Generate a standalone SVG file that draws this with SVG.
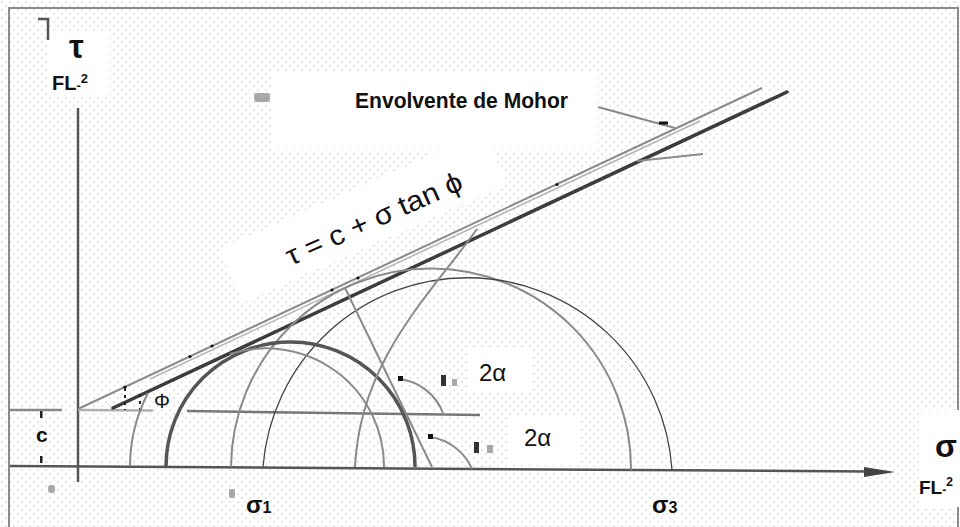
<svg xmlns="http://www.w3.org/2000/svg" width="960" height="527" viewBox="0 0 960 527">
<defs>
<pattern id="dots" width="8" height="8" patternUnits="userSpaceOnUse">
<rect width="8" height="8" fill="#ffffff"/>
<rect x="1" y="1" width="2" height="2" fill="#e6e6e6"/>
<rect x="5" y="5" width="2" height="2" fill="#e6e6e6"/>
</pattern>
</defs>
<style>
.t{font-family:"Liberation Sans",Arial,"DejaVu Sans",sans-serif;fill:#111}
.b{font-weight:bold}
.ax{stroke:#555;stroke-width:2.5;fill:none}
.env{stroke:#3c3c3c;stroke-width:3.5;fill:none;stroke-linecap:round}
.gry{stroke:#8a8a8a;stroke-width:2;fill:none}
.lgry{stroke:#b4b4b4;stroke-width:1.5;fill:none}
.thin{stroke:#444;stroke-width:1.3;fill:none}
.thick{stroke:#555;stroke-width:3.5;fill:none}
.box{fill:#ffffff}
.dot{fill:#111}
.smudge{fill:#a8a8a8}
</style>
<rect width="960" height="527" fill="url(#dots)"/>
<rect x="9" y="8" width="949" height="540" fill="none" stroke="#8a8a8a" stroke-width="2"/>

<g id="label-boxes">
<rect class="box" x="48" y="30" width="62" height="68"/>
<rect class="box" x="273" y="72" width="325" height="78"/>
<rect class="box" x="-60" y="-44" width="290" height="58" transform="translate(292,265) rotate(-24)"/>
<rect class="box" x="467" y="347" width="66" height="46"/>
<rect class="box" x="507" y="417" width="73" height="46"/>
<rect class="box" x="918" y="410" width="42" height="97"/>
</g>

<g id="axes">
<line class="ax" x1="78" y1="108" x2="78" y2="482"/>
<line class="ax" x1="10" y1="466" x2="868" y2="471.5"/>
<polygon points="864,467 895,472 864,477" fill="#444"/>
<path d="M38,19 L48,19 L48,40" stroke="#555" stroke-width="2.5" fill="none"/>
</g>

<g id="c-level">
<line x1="10" y1="410" x2="62" y2="410" stroke="#888" stroke-width="2.5"/>
<line x1="78" y1="410" x2="153" y2="410.5" stroke="#b0b0b0" stroke-width="2.5"/>
<line x1="187" y1="411" x2="480" y2="415" stroke="#777" stroke-width="2.5"/>
<rect x="40" y="411" width="2.5" height="7" fill="#222"/>
<rect x="40" y="456" width="2.5" height="7" fill="#222"/>
</g>

<g id="connectors">
<line class="gry" x1="78" y1="409" x2="762" y2="88"/>
<line class="lgry" x1="150" y1="379" x2="700" y2="121"/>
<line class="env" x1="113" y1="408" x2="787" y2="92"/>
<line class="gry" x1="598" y1="107" x2="675" y2="128"/>
<line class="gry" x1="637" y1="161" x2="703" y2="154"/>
<rect class="dot" x="659" y="121.5" width="9" height="3"/>
<circle class="dot" cx="125" cy="387" r="1.6"/>
<circle class="dot" cx="190" cy="356.5" r="1.6"/>
<circle class="dot" cx="212" cy="346" r="1.6"/>
<circle class="dot" cx="332" cy="290" r="1.6"/>
<circle class="dot" cx="358" cy="278" r="1.6"/>
<circle class="dot" cx="557" cy="184.5" r="1.6"/>
<line x1="125" y1="388" x2="125" y2="410" stroke="#222" stroke-width="2" stroke-dasharray="3 4"/>
<line x1="140" y1="394" x2="140" y2="410" stroke="#222" stroke-width="2" stroke-dasharray="3 4"/>
</g>

<g id="circles">
<path class="gry" d="M231,467 A200,200 0 0 1 631,470"/>
<path class="thin" d="M263,467 A205,205 0 0 1 672,470"/>
<path class="thick" d="M166,466 A124.5,124.5 0 0 1 415,467"/>
</g>

<g id="construction">
<path class="gry" d="M130,466 A160,160 0 0 1 148,393"/>
<path class="gry" d="M230,354 A118,118 0 0 1 384,467"/>
<path class="gry" d="M345,288 L432,467"/>
<path class="gry" d="M477,229 C430,295 360,360 355,467"/>
<path class="gry" d="M400,379 A54,54 0 0 1 443,413"/>
<path class="gry" d="M430,437 A54,54 0 0 1 472,469"/>
<rect class="dot" x="398" y="376" width="5" height="5"/>
<rect class="dot" x="428" y="434" width="5" height="5"/>
</g>

<g id="artifacts">
<rect x="441" y="375" width="5" height="11" fill="#333"/>
<rect x="452" y="379" width="5" height="7" class="smudge"/>
<rect x="474" y="442" width="5" height="11" fill="#333"/>
<rect x="487" y="445" width="6" height="8" class="smudge"/>
<rect x="48" y="485" width="7" height="8" rx="3" class="smudge"/>
<rect x="229" y="489" width="6" height="9" rx="2" class="smudge"/>
<rect x="254" y="93" width="16" height="9" rx="3" class="smudge"/>
</g>

<g id="labels">
<text class="t b" x="69" y="58" font-size="33">τ</text>
<text class="t b" x="52" y="90" font-size="20">FL<tspan font-size="13">-</tspan><tspan font-size="13" dy="-7">2</tspan></text>
<text class="t b" x="355" y="108" font-size="22" textLength="213" lengthAdjust="spacingAndGlyphs">Envolvente de Mohor</text>
<text class="t" font-size="28" textLength="190" lengthAdjust="spacingAndGlyphs" transform="translate(291,266) rotate(-24)">τ = c + σ tan ϕ</text>
<text class="t" x="154" y="408" font-size="20">Φ</text>
<text class="t b" x="36" y="442" font-size="21">c</text>
<text class="t" x="479" y="381" font-size="24">2α</text>
<text class="t" x="524" y="446" font-size="24">2α</text>
<text class="t b" x="935" y="457" font-size="32">σ</text>
<text class="t b" x="919" y="494" font-size="19">FL<tspan font-size="12">-</tspan><tspan font-size="12" dy="-8">2</tspan></text>
<text class="t b" x="246" y="513" font-size="24">σ<tspan font-size="16">1</tspan></text>
<text class="t b" x="652" y="513" font-size="24">σ<tspan font-size="16">3</tspan></text>
</g>
</svg>
